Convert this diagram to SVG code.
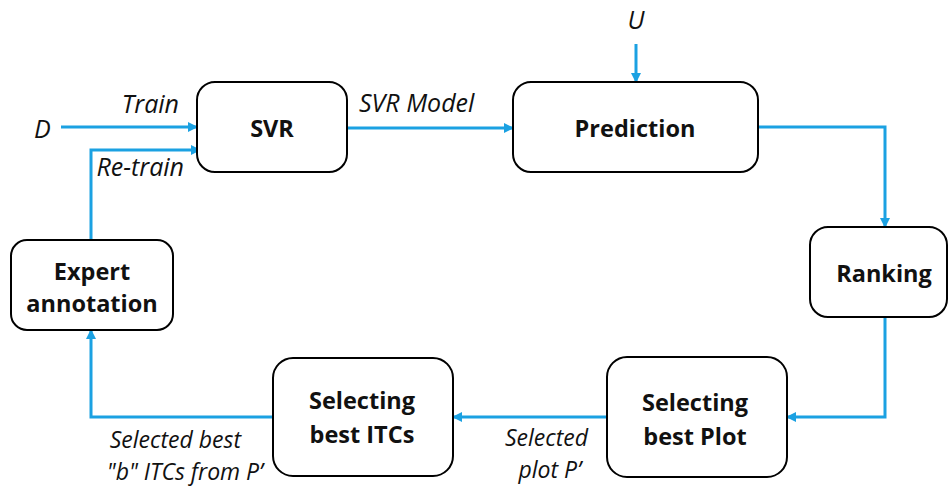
<svg xmlns="http://www.w3.org/2000/svg" width="949" height="486" viewBox="0 0 949 486">
<defs>
<marker id="ah" viewBox="0 0 10 10" refX="9" refY="5" markerWidth="10" markerHeight="10" markerUnits="userSpaceOnUse" orient="auto">
<path d="M0,0 L10,5 L0,10 z" fill="#1BA1E2"/>
</marker>
<style>
.box{fill:#fff;stroke:#000;stroke-width:2}
.lbl{font-family:"Open Sans","Liberation Sans",sans-serif;font-weight:bold;font-size:23.5px;fill:#111;text-anchor:middle;dominant-baseline:central}
.it{font-family:"Open Sans","Liberation Sans",sans-serif;font-style:italic;font-size:25px;fill:#111;dominant-baseline:central}
.sm{font-size:23px}
.c{fill:none;stroke:#1BA1E2;stroke-width:3;marker-end:url(#ah)}
</style>
</defs>
<rect width="949" height="486" fill="#fff"/>
<g id="connectors">
<path class="c" d="M61,127 H197"/>
<path class="c" d="M91,240 V150 H200"/>
<path class="c" d="M347,128 H513"/>
<path class="c" d="M636,44 V82"/>
<path class="c" d="M758,127 H885 V227"/>
<path class="c" d="M885,317 V417 H787"/>
<path class="c" d="M607,417 H453"/>
<path class="c" d="M273,417 H91 V330"/>
</g>
<g id="labels">
<text class="it" x="34" y="128">D</text>
<text class="it" x="179" y="103" text-anchor="end">Train</text>
<text class="it" x="184" y="166" text-anchor="end">Re-train</text>
<text class="it" x="359" y="102">SVR Model</text>
<text class="it" x="636" y="19" text-anchor="middle">U</text>
<text class="it sm" text-anchor="end"><tspan x="588" y="437">Selected</tspan><tspan x="581" y="468.5">plot P’</tspan></text>
<text class="it sm" text-anchor="end"><tspan x="241" y="439">Selected best</tspan><tspan x="263" y="470.5">"b" ITCs from P’</tspan></text>
</g>
<g id="svr">
<rect class="box" x="197" y="82" width="150" height="90" rx="18"/>
<text class="lbl" x="272" y="128">SVR</text>
</g>
<g id="prediction">
<rect class="box" x="513" y="82" width="245" height="90" rx="18"/>
<text class="lbl" x="635" y="128">Prediction</text>
</g>
<g id="ranking">
<rect class="box" x="810" y="227" width="137" height="90" rx="18"/>
<text class="lbl" x="884" y="273">Ranking</text>
</g>
<g id="best-plot">
<rect class="box" x="607" y="357" width="180" height="120" rx="20"/>
<text class="lbl"><tspan x="695" y="402">Selecting</tspan><tspan x="695" y="436">best Plot</tspan></text>
</g>
<g id="best-itcs">
<rect class="box" x="273" y="358" width="180" height="118" rx="20"/>
<text class="lbl"><tspan x="362" y="400">Selecting</tspan><tspan x="362" y="434">best ITCs</tspan></text>
</g>
<g id="expert">
<rect class="box" x="11" y="240" width="162" height="90" rx="16"/>
<text class="lbl"><tspan x="92" y="271">Expert</tspan><tspan x="92" y="303">annotation</tspan></text>
</g>
</svg>
